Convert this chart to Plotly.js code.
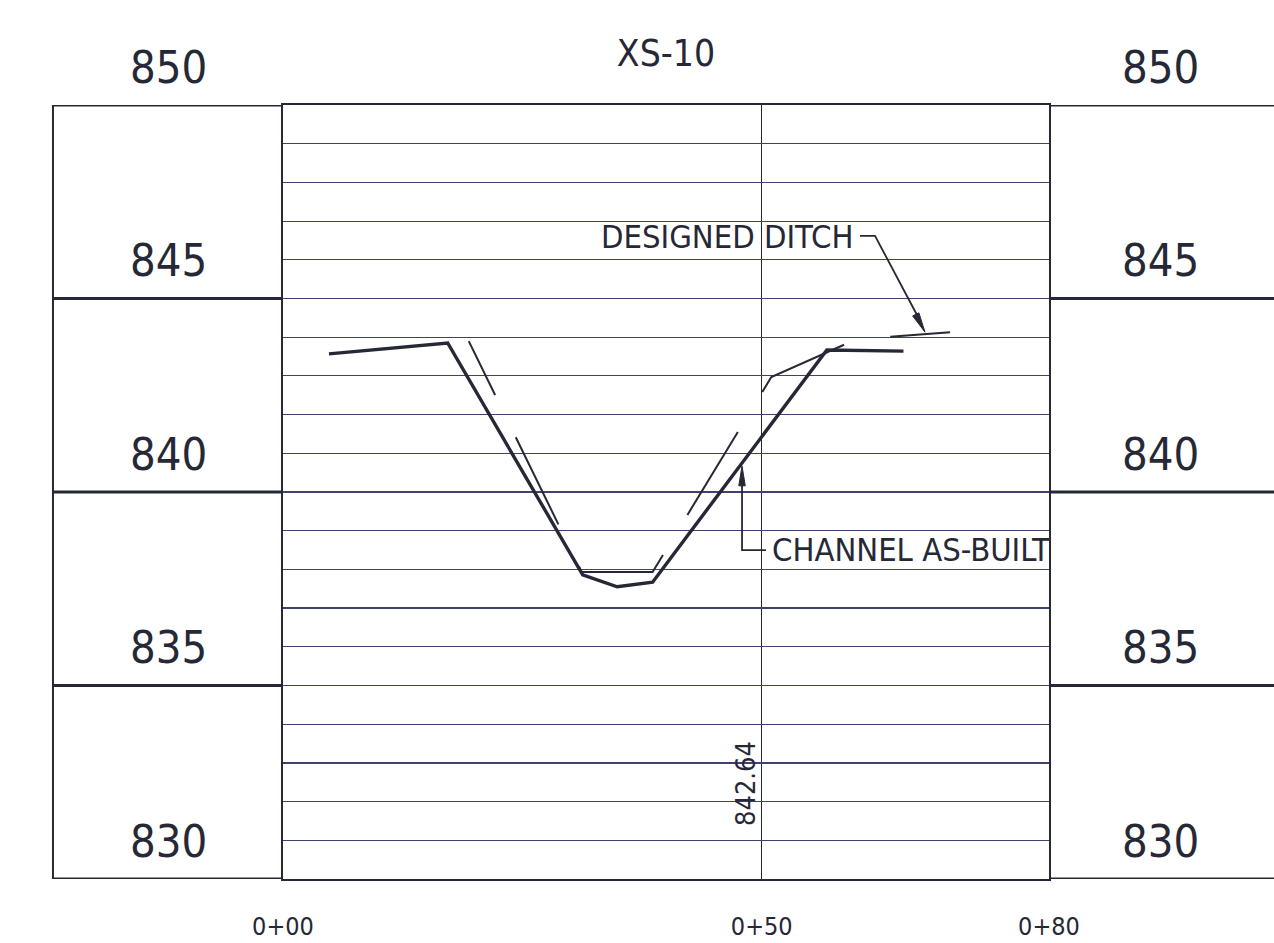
<!DOCTYPE html>
<html>
<head>
<meta charset="utf-8">
<script src="https://cdn.plot.ly/plotly-3.0.1.min.js"></script>
<style>html,body{margin:0;padding:0;background:#fff;}#chart{width:1274px;height:943px;}</style>
</head>
<body>
<div id="chart"></div>
<script>
// ---- data ----
const stationAsBuilt = [4.8, 17.2, 31.3, 34.9, 38.6, 56.8, 64.8];
const elevAsBuilt    = [843.57, 843.85, 837.86, 837.55, 837.67, 843.67, 843.64];
const stationDesign  = [19.4, 31.2, 38.6, 51.0, 59.0, 63.3, 69.7];
const elevDesign     = [843.90, 837.93, 837.93, 842.97, 843.85, 844.01, 844.13];
const elevTicks      = [850, 845, 840, 835, 830];
const stationTicks   = [0, 50, 80];
const stationLabels  = ['0+00', '0+50', '0+80'];
const chartTitle     = 'XS-10';
const labelDesign    = 'DESIGNED DITCH';
const labelAsBuilt   = 'CHANNEL AS-BUILT';
const labelElev      = '842.64';

const INK = '#262836';
const GRID = '#3d4270';
const FONT = '"DejaVu Sans Condensed", "Liberation Sans Narrow", "Arial Narrow", "DejaVu Sans", sans-serif';

const traces = [
  {x: stationDesign, y: elevDesign, mode: 'lines', type: 'scatter',
   line: {color: INK, width: 2, dash: '60px,47px,97px,47px,97px,47px,97px,47px,97px,47px,60px,47px'},
   hoverinfo: 'skip', showlegend: false},
  {x: stationAsBuilt, y: elevAsBuilt, mode: 'lines', type: 'scatter',
   line: {color: INK, width: 3.4}, hoverinfo: 'skip', showlegend: false}
];

const shapes = [];
const annotations = [];
const xl = -0.3003, xr = 1.3;
elevTicks.forEach(v => {
  shapes.push({type: 'line', xref: 'paper', yref: 'y', x0: xl, x1: 0, y0: v, y1: v, line: {color: INK, width: 3}, layer: 'above'});
  shapes.push({type: 'line', xref: 'paper', yref: 'y', x0: 1, x1: xr, y0: v, y1: v, line: {color: INK, width: 3}, layer: 'above'});
  annotations.push({xref: 'paper', yref: 'y', x: -0.150, y: v, yshift: 38, text: String(v), showarrow: false,
    font: {family: FONT, size: 45, color: INK}, xanchor: 'center', yanchor: 'middle'});
  annotations.push({xref: 'paper', yref: 'y', x: 1.146, y: v, yshift: 38, text: String(v), showarrow: false,
    font: {family: FONT, size: 45, color: INK}, xanchor: 'center', yanchor: 'middle'});
});
// left box vertical
shapes.push({type: 'line', xref: 'paper', yref: 'y', x0: xl, x1: xl, y0: 830, y1: 850, line: {color: INK, width: 2}});
// leader: channel as-built
shapes.push({type: 'path', xref: 'x', yref: 'y', path: 'M 50.44,838.50 L 47.94,838.50 L 47.94,840.25', line: {color: INK, width: 1.8}});
shapes.push({type: 'path', xref: 'x', yref: 'y', path: 'M 47.94,840.67 L 47.60,840.16 L 48.28,840.16 Z', line: {color: INK, width: 1}, fillcolor: INK});
// leader: designed ditch
shapes.push({type: 'path', xref: 'x', yref: 'y', path: 'M 60.26,846.62 L 61.83,846.62 L 66.20,844.58', line: {color: INK, width: 1.8}});
shapes.push({type: 'path', xref: 'x', yref: 'y', path: 'M 67.05,844.13 L 66.41,844.63 L 65.76,844.55 Z', line: {color: INK, width: 1}, fillcolor: INK});

annotations.push({xref: 'x', yref: 'y', x: 59.74, y: 846.59, text: labelDesign, showarrow: false, xanchor: 'right', yanchor: 'middle',
  font: {family: FONT, size: 32.5, color: INK}});
annotations.push({xref: 'x', yref: 'y', x: 50.86, y: 838.50, text: labelAsBuilt, showarrow: false, xanchor: 'left', yanchor: 'middle',
  font: {family: FONT, size: 32.5, color: INK}});
annotations.push({xref: 'x', yref: 'y', x: 48.25, y: 832.48, text: labelElev, showarrow: false, textangle: -90, xanchor: 'center', yanchor: 'middle',
  font: {family: FONT, size: 27, color: INK}});

const layout = {
  width: 1274, height: 943, autosize: false,
  margin: {l: 283, r: 225, t: 105, b: 64, pad: 0},
  paper_bgcolor: '#ffffff', plot_bgcolor: '#ffffff',
  title: {text: chartTitle, x: 0.5, xref: 'paper', xanchor: 'center', y: 1 - 53/943, yref: 'container', yanchor: 'middle',
    font: {family: FONT, size: 37, color: INK}},
  xaxis: {range: [0, 80], tickvals: stationTicks, ticktext: stationLabels, showgrid: true, gridcolor: INK, gridwidth: 1.2,
    zeroline: false, showline: true, mirror: true, linecolor: INK, linewidth: 1.6, ticks: '', ticklabelstandoff: 24,
    tickfont: {family: FONT, size: 25, color: INK}, fixedrange: true},
  yaxis: {range: [830, 850], dtick: 1, tick0: 830, showgrid: true, gridcolor: GRID, gridwidth: 1.2, zeroline: false,
    showline: true, mirror: true, linecolor: INK, linewidth: 1.6, showticklabels: false, ticks: '', fixedrange: true},
  shapes: shapes, annotations: annotations, showlegend: false
};
Plotly.newPlot('chart', traces, layout, {staticPlot: true, displayModeBar: false});
</script>
</body>
</html>
